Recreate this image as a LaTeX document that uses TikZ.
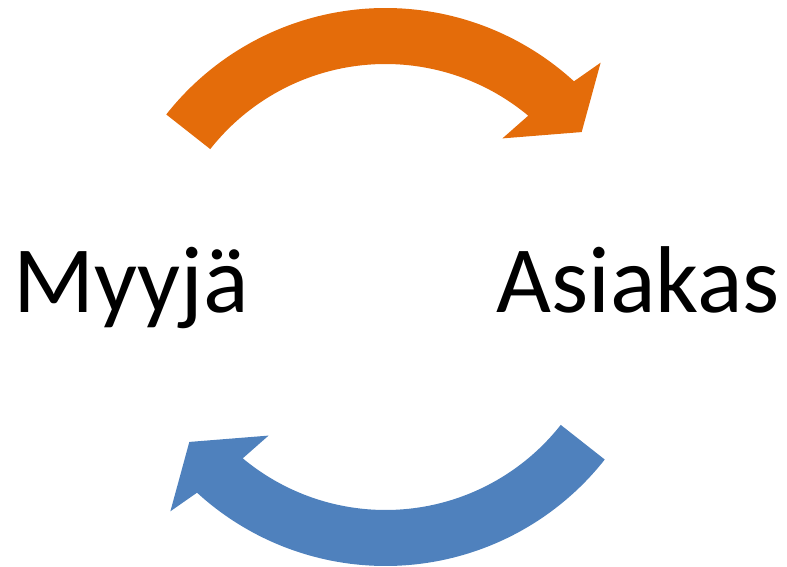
\documentclass[tikz,border=0pt]{standalone}
\usepackage{fontspec}
\setmainfont{Carlito}
\definecolor{arroworange}{HTML}{E46C0A}
\definecolor{arrowblue}{HTML}{4F81BD}
\tikzset{
  party/.style={inner sep=0pt, font=\fontsize{54}{64}\selectfont},
  bigarrow/.style={draw=none}
}
\begin{document}
\begin{tikzpicture}[x=0.2mm, y=0.2mm]
  \useasboundingbox (0,0) rectangle (787,566);
  \coordinate (c) at (385.5,279);
  % upper arrow, seller to customer
  \fill [bigarrow, arroworange, shift={(c)}]
    (141.8:279) arc [start angle=141.8, end angle=47.5, radius=279]
    -- (46.2:310.8) -- (38.3:250) -- (51.8:189.1) -- (50.2:223)
    arc [start angle=50.2, end angle=141.8, radius=223] -- cycle;
  % lower arrow, customer to seller
  \fill [bigarrow, arrowblue, shift={(c)}]
    (321.8:279) arc [start angle=321.8, end angle=227.5, radius=279]
    -- (226.2:310.8) -- (218.3:250) -- (231.8:189.1) -- (230.2:223)
    arc [start angle=230.2, end angle=321.8, radius=223] -- cycle;
  % labels
  \node [party, anchor=base west] (seller) at (13,253.3) {Myyjä};
  \node [party, anchor=base east] (customer) at (780,253.3) {Asiakas};
\end{tikzpicture}
\end{document}
